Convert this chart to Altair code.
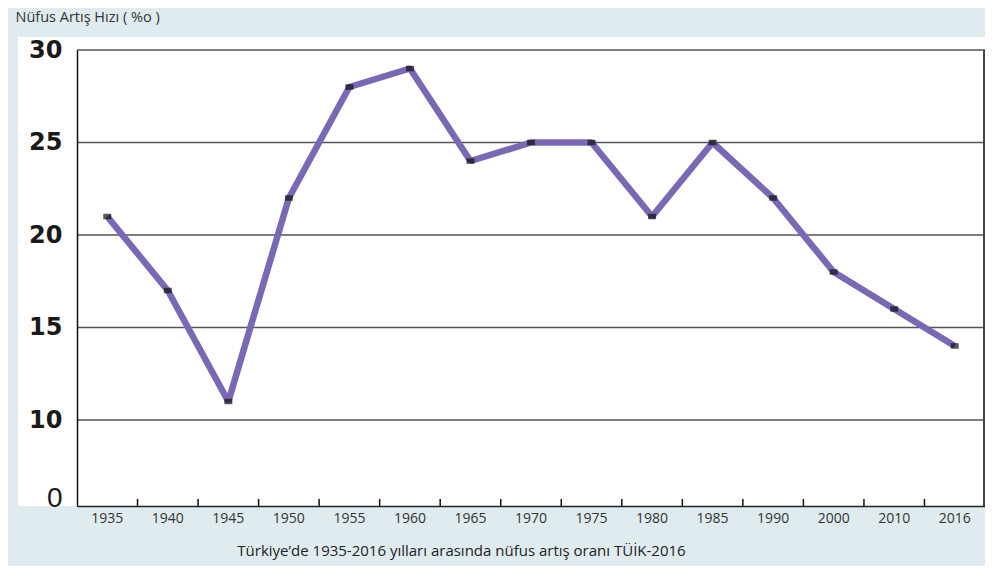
import altair as alt
import pandas as pd

years = ["1935", "1940", "1945", "1950", "1955", "1960", "1965", "1970",
         "1975", "1980", "1985", "1990", "2000", "2010", "2016"]
rates = [21, 17, 11, 22, 28, 29, 24, 25, 25, 21, 25, 22, 18, 16, 14]
y_ticks = [0, 10, 15, 20, 25, 30]
grid_vals = [10, 15, 20, 25, 30]
y_title = "Nüfus Artış Hızı ( %o )"
caption = "Türkiye’de 1935-2016 yılları arasında nüfus artış oranı TÜİK-2016"

df = pd.DataFrame({"year": years, "rate": rates})
grid_df = pd.DataFrame({"rate": grid_vals})
tick_df = pd.DataFrame({"year": years[1:]})
one = alt.Data(values=[{}])

W, H = 908, 456
Y10 = 370

xscale = alt.Scale(type="band", domain=years, paddingInner=0, paddingOuter=0)
yscale = alt.Scale(type="linear", domain=[0, 10, 30], range=[H, Y10, 0], nice=False, zero=False)

yaxis = alt.Axis(
    values=y_ticks, grid=False, ticks=False, domain=True, domainColor="#111", domainWidth=1.5,
    labelFont={"condition": {"test": "datum.value === 0", "value": "Liberation Sans"}, "value": "DejaVu Sans"},
    labelFontSize={"condition": {"test": "datum.value === 0", "value": 28}, "value": 24},
    labelFontWeight={"condition": {"test": "datum.value === 0", "value": "normal"}, "value": "bold"},
    labelBaseline={"condition": {"test": "datum.value === 0", "value": "alphabetic"}, "value": "middle"},
    labelColor="#1a1a1a", labelPadding=15, labelFlush=False, labelOverlap=False,
    title=y_title, titleAngle=0, titleX=-62, titleY=-33, titleAlign="left", titleBaseline="middle",
    titleFont="Open Sans", titleFontSize=14.5, titleFontWeight="normal", titleColor="#333",
    zindex=1,
)
xaxis = alt.Axis(
    grid=False, ticks=False, domain=True, domainColor="#222", domainWidth=1.5,
    labelFont="Open Sans", labelFontSize=14, labelColor="#333", labelPadding=5, labelAngle=0,
    title=caption, titleX=384, titleY=44, titleAlign="center", titleBaseline="middle",
    titleFont="Open Sans", titleFontSize=15, titleFontWeight="normal", titleColor="#222",
    zindex=1,
)

panel = alt.Chart(one).mark_rect(color="white").encode(
    x=alt.value(-59), x2=alt.value(W + 2), y=alt.value(-13), y2=alt.value(H)
)
grid = alt.Chart(grid_df).mark_rule(color="#555", strokeWidth=1.5).encode(
    y=alt.Y("rate:Q", scale=yscale, axis=yaxis), x=alt.value(0), x2=alt.value(W)
)
border = alt.Chart(one).mark_rule(color="#444", strokeWidth=2).encode(
    x=alt.value(W - 1), y=alt.value(0), y2=alt.value(H)
)
xticks = alt.Chart(tick_df).mark_rule(color="#111", strokeWidth=1.5).encode(
    x=alt.X("year:O", scale=xscale, axis=xaxis, bandPosition=0),
    y=alt.value(H), y2=alt.value(H - 7)
)
line = alt.Chart(df).mark_line(color="#7b68b4", strokeWidth=6.5, strokeJoin="bevel").encode(
    x=alt.X("year:O", scale=xscale, axis=xaxis, sort=None),
    y=alt.Y("rate:Q", scale=yscale, axis=yaxis),
)
marks = alt.Chart(df).mark_tick(color="#111", thickness=5.5, size=8).encode(
    x=alt.X("year:O", scale=xscale, axis=xaxis, sort=None),
    y=alt.Y("rate:Q", scale=yscale, axis=yaxis),
)

chart = alt.layer(panel, grid, border, xticks, line, marks).properties(
    width=W, height=H,
    autosize=alt.AutoSizeParams(type="none"),
    padding={"left": 69, "top": 42, "right": 0, "bottom": 60},
    background="#e0ebf0",
).configure_view(stroke=None)

chart.save("out.html", embed_options={"renderer": "svg", "actions": False})
